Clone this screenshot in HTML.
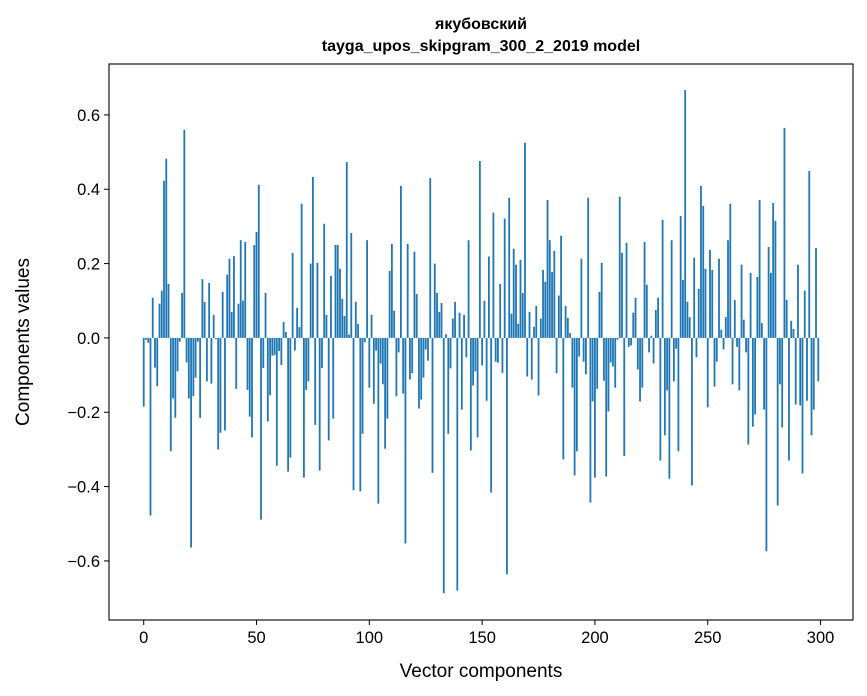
<!DOCTYPE html>
<html><head><meta charset="utf-8">
<style>
html,body{margin:0;padding:0;background:#fff;}
svg{display:block;font-family:"Liberation Sans","DejaVu Sans",sans-serif;}
</style></head>
<body>
<svg id="chart" width="867" height="696" viewBox="0 0 867 696" xmlns="http://www.w3.org/2000/svg">
<rect width="867" height="696" fill="#fff"/>
<text x="481" y="29" text-anchor="middle" font-size="16" font-weight="bold">якубовский</text>
<text x="481" y="51" text-anchor="middle" font-size="16" font-weight="bold">tayga_upos_skipgram_300_2_2019 model</text>
<g id="bars"></g>
<g id="xticks"></g>
<g id="yticks"></g>
<rect x="109" y="64" width="744" height="556" fill="none" stroke="#000" stroke-width="1.1"/>
<text x="481" y="677" text-anchor="middle" font-size="19">Vector components</text>
<text transform="translate(29,342) rotate(-90)" text-anchor="middle" font-size="19">Components values</text>
</svg>
<script>
const values = [
-0.185,-0.005,-0.013,-0.478,0.108,-0.08,-0.13,0.092,0.127,0.423,
0.482,0.145,-0.305,-0.163,-0.215,-0.09,-0.01,0.121,0.56,-0.066,
-0.163,-0.564,-0.157,-0.107,-0.01,-0.215,0.158,0.097,-0.117,0.148,
-0.123,0.062,-0.003,-0.3,-0.255,0.124,-0.249,0.17,0.213,0.07,
0.22,-0.137,0.092,0.263,0.1,0.258,-0.14,-0.212,-0.268,0.25,
0.285,0.412,-0.489,-0.081,0.121,-0.225,-0.154,-0.048,-0.046,-0.344,
-0.035,-0.073,0.043,0.016,-0.36,-0.322,0.229,-0.034,0.081,0.029,
0.361,-0.376,-0.14,-0.117,0.2,0.433,-0.234,0.202,-0.357,-0.081,
0.307,0.062,-0.276,0.167,-0.217,0.25,0.25,0.186,0.105,0.059,
0.473,0.009,0.282,-0.41,0.097,0.038,-0.413,-0.258,-0.012,0.263,
-0.134,0.062,-0.177,-0.034,-0.446,-0.069,-0.125,-0.298,-0.217,0.18,
0.253,0.073,-0.157,-0.039,0.409,-0.15,-0.553,0.253,-0.112,-0.095,
0.232,0.118,-0.19,-0.166,-0.107,-0.031,-0.061,0.43,-0.363,0.2,
0.121,0.07,0.094,-0.687,0.01,-0.258,-0.082,0.052,0.097,-0.68,
0.068,-0.193,0.062,-0.052,0.263,-0.303,-0.128,-0.09,-0.268,0.476,
-0.074,0.1,-0.169,0.219,-0.416,0.337,-0.064,-0.067,0.145,-0.094,
0.321,-0.636,0.377,0.065,0.24,0.197,0.038,0.21,0.121,0.525,
-0.104,0.07,-0.112,0.03,0.086,-0.155,0.052,0.183,0.151,0.371,
0.263,0.177,0.234,-0.095,0.114,0.275,-0.327,0.086,0.054,0.013,
-0.134,-0.37,-0.305,-0.05,0.213,-0.064,-0.098,0.377,-0.443,-0.171,
-0.376,-0.137,0.124,0.202,-0.115,-0.373,-0.198,-0.066,-0.077,-0.134,
-0.005,0.38,0.229,-0.318,0.256,-0.024,-0.02,0.068,0.108,-0.085,
-0.171,-0.134,0.258,0.143,-0.039,0.006,-0.069,0.075,0.108,-0.33,
0.318,-0.262,-0.141,-0.379,0.263,-0.117,-0.029,-0.305,0.328,0.156,
0.667,0.097,0.056,-0.397,0.216,-0.052,0.132,0.409,0.355,0.186,
-0.187,0.237,0.183,-0.131,-0.064,0.213,0.022,-0.031,0.056,0.263,
0.361,-0.125,0.102,-0.024,-0.141,0.197,0.049,-0.039,-0.287,0.175,
-0.239,-0.206,0.164,0.371,0.04,-0.193,-0.574,0.245,0.175,0.363,
0.315,-0.451,-0.125,-0.241,0.565,0.102,-0.33,0.046,0.024,-0.179,
0.197,-0.182,-0.365,0.127,-0.169,0.449,-0.262,-0.193,0.242,-0.117
];
const xTickValues = [0,50,100,150,200,250,300];
const yTickValues = [-0.6,-0.4,-0.2,0.0,0.2,0.4,0.6];
const yTickLabels = ["\u22120.6","\u22120.4","\u22120.2","0.0","0.2","0.4","0.6"];

const NS = "http://www.w3.org/2000/svg";
const X0 = 109, X1 = 853, Y0 = 64, Y1 = 620;
const xMin = -15.39, xMax = 314.39, yMin = -0.759, yMax = 0.737;
function xs(v){ return X0 + (v - xMin) / (xMax - xMin) * (X1 - X0); }
function ys(v){ return Y1 - (v - yMin) / (yMax - yMin) * (Y1 - Y0); }

const bars = document.getElementById('bars');
values.forEach(function(v, i){
  const r = document.createElementNS(NS, 'rect');
  const xl = xs(i - 0.4), xr = xs(i + 0.4);
  const y = Math.min(ys(v), ys(0)), h = Math.abs(ys(v) - ys(0));
  r.setAttribute('x', xl.toFixed(2));
  r.setAttribute('y', y.toFixed(2));
  r.setAttribute('width', (xr - xl).toFixed(2));
  r.setAttribute('height', Math.max(h, 0.3).toFixed(2));
  r.setAttribute('fill', '#1f77b4');
  
  
  bars.appendChild(r);
});

const xg = document.getElementById('xticks');
xTickValues.forEach(function(t){
  const x = xs(t);
  const l = document.createElementNS(NS, 'line');
  l.setAttribute('x1', x); l.setAttribute('x2', x);
  l.setAttribute('y1', Y1); l.setAttribute('y2', Y1 + 5);
  l.setAttribute('stroke', '#000');
  
  
  xg.appendChild(l);
  const tx = document.createElementNS(NS, 'text');
  tx.setAttribute('x', x); tx.setAttribute('y', Y1 + 23);
  tx.setAttribute('text-anchor', 'middle');
  tx.setAttribute('font-size', '16.5');
  tx.textContent = String(t);
  
  
  xg.appendChild(tx);
});

const yg = document.getElementById('yticks');
yTickValues.forEach(function(t, k){
  const y = ys(t);
  const l = document.createElementNS(NS, 'line');
  l.setAttribute('x1', X0 - 5); l.setAttribute('x2', X0);
  l.setAttribute('y1', y); l.setAttribute('y2', y);
  l.setAttribute('stroke', '#000');
  
  
  yg.appendChild(l);
  const tx = document.createElementNS(NS, 'text');
  tx.setAttribute('x', X0 - 9); tx.setAttribute('y', y + 6);
  tx.setAttribute('text-anchor', 'end');
  tx.setAttribute('font-size', '16.5');
  tx.textContent = yTickLabels[k];
  
  
  yg.appendChild(tx);
});
</script>
</body></html>
